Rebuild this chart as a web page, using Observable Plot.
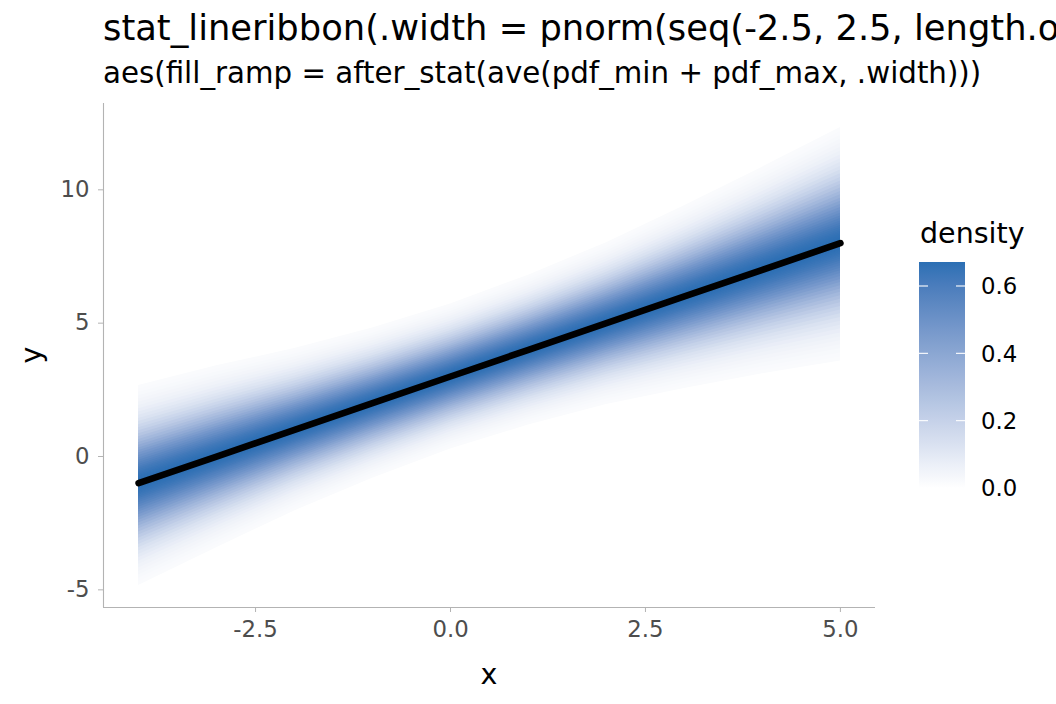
<!DOCTYPE html>
<html><head><meta charset="utf-8">
<script src="https://cdn.jsdelivr.net/npm/d3@7"></script>
<script src="https://cdn.jsdelivr.net/npm/@observablehq/plot@0.6"></script>
<style>
body{margin:0;background:#fff;}
#wrap{position:relative;width:1056px;height:704px;overflow:hidden;font-family:"DejaVu Sans",sans-serif;}
#wrap > svg, #wrap > figure{position:absolute;left:0;top:0;margin:0;}
</style></head><body><div id="wrap"></div>
<script>
// ---- data ----
const xs = [-4, -3, -2, -1, 0, 1, 2, 3, 4, 5];
const medians = [-1, 0, 1, 2, 3, 4, 5, 6, 7, 8];
const outerLower = [-4.84, -3.42, -2.04, -0.82, 0.28, 1.18, 1.95, 2.55, 3.1, 3.58];
const outerUpper = [2.66, 3.4, 4.05, 4.82, 5.72, 6.8, 8.02, 9.4, 10.85, 12.34];
const seqFrom = -2.5, seqTo = 2.5, nBands = 50;
const xTicks = [-2.5, 0, 2.5, 5];
const yTicks = [-5, 0, 5, 10];
const legendTicks = [0, 0.2, 0.4, 0.6];
const titleText = "stat_lineribbon(.width = pnorm(seq(-2.5, 2.5, length.out = 50)),";
const subtitleText = "aes(fill_ramp = after_stat(ave(pdf_min + pdf_max, .width)))";
const legendTitle = "density";
const baseFill = "#2b6fb4";

// ---- normal helpers (the stat) ----
function erf(x){const s=Math.sign(x);x=Math.abs(x);const t=1/(1+0.3275911*x);
  const y=1-(((((1.061405429*t-1.453152027)*t)+1.421413741)*t-0.284496736)*t+0.254829592)*t*Math.exp(-x*x);return s*y;}
const pnorm = z => 0.5*(1+erf(z/Math.SQRT2));
const dnorm = z => Math.exp(-z*z/2)/Math.sqrt(2*Math.PI);
function qnorm(p){
  const a=[-3.969683028665376e+01,2.209460984245205e+02,-2.759285104469687e+02,1.383577518672690e+02,-3.066479806614716e+01,2.506628277459239e+00];
  const b=[-5.447609879822406e+01,1.615858368580409e+02,-1.556989798598866e+02,6.680131188771972e+01,-1.328068155288572e+01];
  const c=[-7.784894002430293e-03,-3.223964580411365e-01,-2.400758277161838e+00,-2.549732539343734e+00,4.374664141464968e+00,2.938163982698783e+00];
  const d=[7.784695709041462e-03,3.224671290700398e-01,2.445134137142996e+00,3.754408661907416e+00];
  const pl=0.02425;let q,r;
  if(p<pl){q=Math.sqrt(-2*Math.log(p));return (((((c[0]*q+c[1])*q+c[2])*q+c[3])*q+c[4])*q+c[5])/((((d[0]*q+d[1])*q+d[2])*q+d[3])*q+1);}
  if(p>1-pl){q=Math.sqrt(-2*Math.log(1-p));return -(((((c[0]*q+c[1])*q+c[2])*q+c[3])*q+c[4])*q+c[5])/((((d[0]*q+d[1])*q+d[2])*q+d[3])*q+1);}
  q=p-0.5;r=q*q;return (((((a[0]*r+a[1])*r+a[2])*r+a[3])*r+a[4])*r+a[5])*q/(((((b[0]*r+b[1])*r+b[2])*r+b[3])*r+b[4])*r+1);
}

const widths = d3.range(nBands).map(i => pnorm(seqFrom + i*(seqTo-seqFrom)/(nBands-1)));
const zs = widths.map(w => qnorm((1+w)/2));
const zmax = d3.max(zs);
const order = d3.range(nBands).sort((i,j) => widths[j]-widths[i]); // widest first
const rows = [];
for (const k of order) {
  const z = zs[k];
  const dens = d3.mean(xs, (_, i) => {
    const sdL = (medians[i]-outerLower[i])/zmax, sdU = (outerUpper[i]-medians[i])/zmax;
    return dnorm(z)/sdL + dnorm(z)/sdU;
  });
  xs.forEach((x, i) => {
    const sdL = (medians[i]-outerLower[i])/zmax, sdU = (outerUpper[i]-medians[i])/zmax;
    rows.push({band: k, x, lo: medians[i]-sdL*z, hi: medians[i]+sdU*z, dens});
  });
}
const dmax = d3.max(rows, r => r.dens);
const lineRows = xs.map((x, i) => ({x, y: medians[i]}));

const xDom = [-4.45, 5.45], yDom = [-5.662, 13.237];
const ramp = t => d3.interpolateLab("#ffffff", baseFill)(t);

const plot = Plot.plot({
  width: 1056, height: 704,
  marginTop: 103, marginRight: 181, marginBottom: 97, marginLeft: 103,
  style: {fontFamily: "DejaVu Sans", background: "transparent", overflow: "visible"},
  x: {domain: xDom, label: null},
  y: {domain: yDom, label: null},
  color: {type: "linear", domain: [0, dmax], interpolate: ramp},
  marks: [
    Plot.areaY(rows, {x: "x", y1: "lo", y2: "hi", z: "band", fill: "dens"}),
    Plot.line(lineRows, {x: "x", y: "y", stroke: "#000", strokeWidth: 6.6}),
    Plot.ruleX([xDom[0]], {stroke: "#b3b3b3", strokeWidth: 1.1}),
    Plot.ruleY([yDom[0]], {stroke: "#b3b3b3", strokeWidth: 1.1}),
    Plot.axisX(xTicks, {tickSize: 5, stroke: "#b3b3b3", tickFormat: () => "", label: null}),
    Plot.axisX(xTicks, {tickSize: 0, tickPadding: 13, fill: "#4d4d4d", fontSize: 22.8, tickFormat: d => d.toFixed(1), label: null}),
    Plot.axisY(yTicks, {tickSize: 5, stroke: "#b3b3b3", tickFormat: () => "", label: null}),
    Plot.axisY(yTicks, {tickSize: 0, tickPadding: 14, fill: "#4d4d4d", fontSize: 22.8, tickFormat: d => String(d), label: null})
  ]
});
const wrap = document.getElementById("wrap");
wrap.appendChild(plot);

// ---- overlay: titles, axis titles, legend ----
const color = plot.scale("color");
const ov = d3.select(wrap).append("svg").attr("width", 1056).attr("height", 704)
  .attr("font-family", "DejaVu Sans");
ov.append("text").attr("x", 103).attr("y", 40).attr("font-size", 35.3).attr("fill", "#000").text(titleText);
ov.append("text").attr("x", 103).attr("y", 83).attr("font-size", 29.3).attr("fill", "#000").text(subtitleText);
ov.append("text").attr("x", 489).attr("y", 684).attr("font-size", 28.5).attr("text-anchor", "middle").text("x");
ov.append("text").attr("transform", "translate(41,355) rotate(-90)").attr("font-size", 28.5).attr("text-anchor", "middle").text("y");

// legend
const lx = 919, lw = 46, ly0 = 488, ly1 = 262;
const ly = d3.scaleLinear().domain([0, dmax]).range([ly0, ly1]);
const grad = ov.append("defs").append("linearGradient").attr("id", "g").attr("x1", 0).attr("y1", 1).attr("x2", 0).attr("y2", 0);
d3.range(0, 1.0001, 0.05).forEach(t => grad.append("stop").attr("offset", t).attr("stop-color", color.apply(t*dmax)));
ov.append("text").attr("x", 920).attr("y", 243).attr("font-size", 28.5).text(legendTitle);
ov.append("rect").attr("x", lx).attr("y", ly1).attr("width", lw).attr("height", ly0-ly1).attr("fill", "url(#g)");
legendTicks.forEach(v => {
  const y = ly(v);
  if (v > 0 && v < dmax) {
    ov.append("line").attr("x1", lx).attr("x2", lx+9).attr("y1", y).attr("y2", y).attr("stroke", "#fff").attr("stroke-width", 1.1);
    ov.append("line").attr("x1", lx+lw-9).attr("x2", lx+lw).attr("y1", y).attr("y2", y).attr("stroke", "#fff").attr("stroke-width", 1.1);
  }
  ov.append("text").attr("x", 981).attr("y", y).attr("dy", "0.36em").attr("font-size", 22.8).attr("fill", "#000").text(v.toFixed(1));
});
</script></body></html>
